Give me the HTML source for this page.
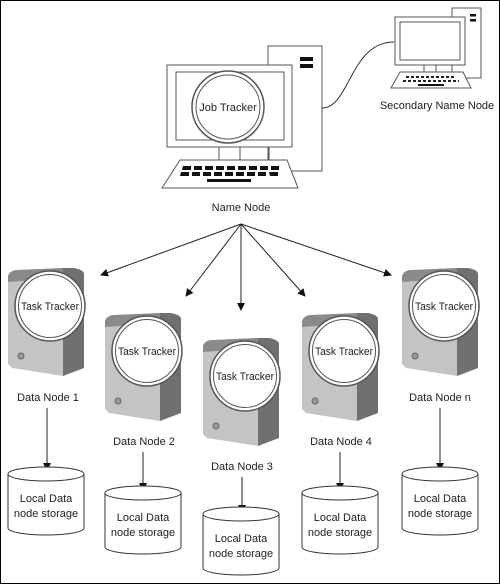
<!DOCTYPE html>
<html><head><style>
html,body{margin:0;padding:0;background:#fff}
svg{display:block}
text{font-family:"Liberation Sans",sans-serif;font-size:11px;fill:#222}
</style></head><body>
<svg width="500" height="584" viewBox="0 0 500 584">
<defs>
<marker id="ah" markerWidth="8" markerHeight="8" refX="7" refY="4" orient="auto" markerUnits="userSpaceOnUse">
<path d="M0,0 L8,4 L0,8 z" fill="#111"/></marker>
<g id="srv">
<path d="M0,8 Q2,2 10,2 L55,0 L55,108 L4,100 L0,96 Z" fill="#c4c4c4"/>
<path d="M55,0 L66,0 Q76,2 76,6 L76,100 L55,108 Z" fill="#707070"/>
<path d="M0,8 Q2,2 10,2 L55,0 L55,10 L0,14 Z" fill="#8a8a8a"/>
<circle cx="42" cy="38" r="35" fill="#fff" stroke="#555" stroke-width="1.5"/>
<circle cx="42" cy="38" r="31.5" fill="#fff" stroke="#555" stroke-width="1"/>
<text x="42" y="42" text-anchor="middle" textLength="58" lengthAdjust="spacingAndGlyphs">Task Tracker</text>
<circle cx="13" cy="88" r="3" fill="#999" stroke="#666"/>
</g>
<g id="cyl">
<path d="M0,8 L0,62 A38,7 0 0 0 76,62 L76,8" fill="#fff" stroke="#333"/>
<ellipse cx="38" cy="8" rx="38" ry="7" fill="#fff" stroke="#333"/>
<text x="38" y="36" text-anchor="middle">Local Data</text>
<text x="38" y="51" text-anchor="middle">node storage</text>
</g>
</defs>
<rect x="0.5" y="0.5" width="499" height="583" fill="#fff" stroke="#000"/>

<rect x="268" y="46" width="54" height="125" fill="#fff" stroke="#555"/>
<rect x="300" y="57" width="13" height="4" fill="#111"/>
<rect x="300" y="64" width="13" height="4" fill="#111"/>
<rect x="167" y="65" width="125" height="82" fill="#fff" stroke="#555"/>
<rect x="176" y="72" width="108" height="68" fill="#fff" stroke="#555"/>
<circle cx="228" cy="107" r="36" fill="#fff" stroke="#555" stroke-width="1.5"/>
<circle cx="228" cy="107" r="32" fill="#fff" stroke="#555"/>
<text x="228" y="111" text-anchor="middle">Job Tracker</text>
<path d="M219,147V160M240,147V160M269,147V160" stroke="#555"/>
<path d="M180,160 L287,160 L298,188 L162,188 Z" fill="#fff" stroke="#555"/>
<g fill="#111">
<path d="M183,166h8v4h-9zM194,166h8v4h-8zM205,166h8v4h-8zM216,166h8v4h-8zM227,166h8v4h-8zM238,166h8v4h-8zM249,166h8v4h-8zM260,166h8v4h-8zM271,166h8v4h-8z"/>
<path d="M181,172h8v4h-9zM192,172h8v4h-8zM203,172h8v4h-8zM214,172h8v4h-8zM225,172h8v4h-8zM236,172h8v4h-8zM247,172h8v4h-8zM258,172h8v4h-8zM269,172h9v4h-8z"/>
<rect x="207" y="179" width="44" height="3"/>
</g>
<path d="M322,108 C350,108 350,42 394,42" fill="none" stroke="#333"/>
<text x="241" y="211" text-anchor="middle">Name Node</text>

<rect x="452" y="8" width="29" height="70" fill="#fff" stroke="#555"/>
<rect x="470" y="14" width="6" height="2.5" fill="#111"/>
<rect x="470" y="19" width="6" height="2.5" fill="#111"/>
<rect x="395" y="17" width="70" height="48" fill="#fff" stroke="#555"/>
<rect x="400" y="22" width="60" height="38" fill="#fff" stroke="#555"/>
<path d="M424,65V72M436,65V72M452,65V72" stroke="#555"/>
<path d="M400,72 L463,72 L471,88 L391,88 Z" fill="#fff" stroke="#555"/>
<path d="M406,77h50M403,81h56" stroke="#222" stroke-width="2" stroke-dasharray="3,2"/>
<rect x="418" y="84" width="26" height="2" fill="#111"/>
<text x="437" y="109" text-anchor="middle">Secondary Name Node</text>

<g stroke="#222" fill="none" marker-end="url(#ah)">
<path d="M241,224 L101,275"/>
<path d="M241,224 L186,296"/>
<path d="M241,224 L241,310"/>
<path d="M241,224 L305,296"/>
<path d="M241,224 L391,275"/>
</g>

<use href="#srv" x="8" y="268"/>
<use href="#srv" x="105" y="313"/>
<use href="#srv" x="203" y="338"/>
<use href="#srv" x="302" y="313"/>
<use href="#srv" x="402" y="268"/>

<text x="48" y="401" text-anchor="middle">Data Node 1</text>
<text x="144" y="445" text-anchor="middle">Data Node 2</text>
<text x="242" y="470" text-anchor="middle">Data Node 3</text>
<text x="341" y="445" text-anchor="middle">Data Node 4</text>
<text x="440" y="401" text-anchor="middle">Data Node n</text>

<g stroke="#222" marker-end="url(#ah)">
<path d="M47,408 V470"/>
<path d="M143,452 V490"/>
<path d="M242,477 V512"/>
<path d="M340,452 V490"/>
<path d="M440,408 V470"/>
</g>

<use href="#cyl" x="8" y="466"/>
<use href="#cyl" x="105" y="485"/>
<use href="#cyl" x="203" y="506"/>
<use href="#cyl" x="302" y="485"/>
<use href="#cyl" x="402" y="466"/>
</svg>
</body></html>
